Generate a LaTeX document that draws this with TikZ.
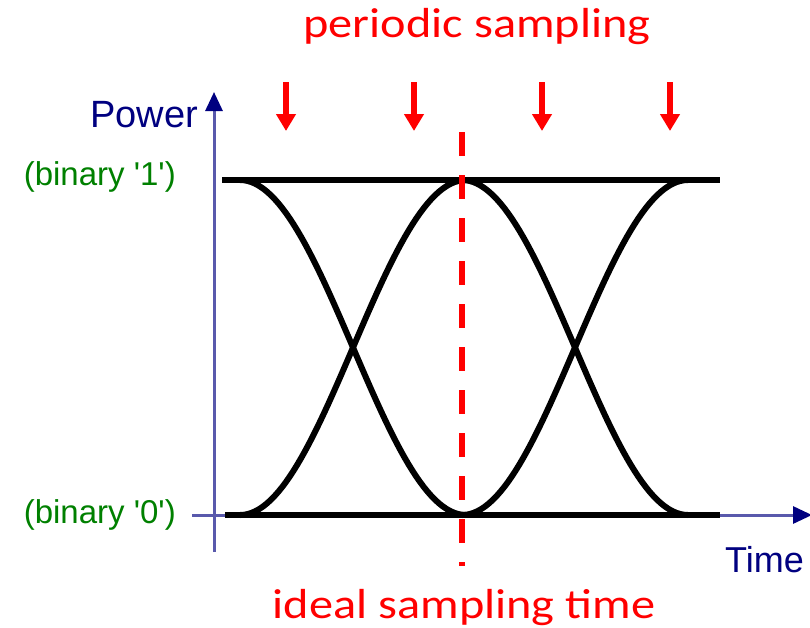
\documentclass[tikz,border=0pt]{standalone}
\usepackage{fontspec}
\setmainfont{Carlito}
\newfontfamily\axisfont{Liberation Sans}
\usetikzlibrary{arrows.meta,positioning,calc}
\definecolor{axiscol}{RGB}{0,0,128}
\definecolor{levelcol}{RGB}{0,128,0}
\definecolor{samplecol}{RGB}{255,0,0}
\newcommand{\wide}[1]{\scalebox{1.15}[1]{#1}}

\begin{document}
\begin{tikzpicture}[x=1pt, y=-1pt,
    axis/.style={axiscol!65, line width=3pt, -{Triangle[length=19pt,width=17pt,color=axiscol]}},
    eye/.style={black, line width=6pt},
    sample/.style={samplecol, line width=6pt, -{Triangle[length=17pt,width=19pt]}},
    ideal/.style={samplecol, line width=6pt, dash pattern=on 24pt off 19pt},
    axislabel/.style={font=\axisfont\fontsize{38}{42}\selectfont, text=axiscol, inner sep=0pt},
    levellabel/.style={font=\axisfont\fontsize{33}{36}\selectfont, text=levelcol, inner sep=0pt},
    caption/.style={font=\fontsize{42}{46}\selectfont, text=samplecol, inner sep=0pt},
]
\useasboundingbox (0,0) rectangle (810,627);

% axes
\coordinate (ybot) at (214,552);
\coordinate (ytop) at (214,92);
\coordinate (xleft) at (192,515);
\coordinate (xright) at (812,515);
\draw[axis] (ybot) -- (ytop);
\draw[axis] (xleft) -- (xright);

\node[axislabel, anchor=base east] (power) at (198,127) {Power};
\node[axislabel, anchor=base west, font=\axisfont\fontsize{36}{40}\selectfont] (time) at (725,572) {Time};
\node[levellabel, anchor=east] (one) at (176,177) {(binary '1')};
\node[levellabel, anchor=east] (zero) at (176,515) {(binary '0')};

% eye diagram
\draw[eye] (222,180) -- (720,180);
\draw[eye] (225,515) -- (720,515);
\foreach \s in {240,462}{
  \draw[eye, domain=0:180, samples=60, variable=\t]
    plot ({\s+\t/180*226}, {347.5-167.5*cos(\t)});
  \draw[eye, domain=0:180, samples=60, variable=\t]
    plot ({\s+\t/180*226}, {347.5+167.5*cos(\t)});
}

% sampling
\coordinate (itop) at (462,132);
\coordinate (ibot) at (462,566);
\draw[ideal] (itop) -- (ibot);
\foreach \i/\x in {1/286,2/414,3/542,4/670}{
  \coordinate (s\i top) at (\x,82);
  \coordinate (s\i bot) at (\x,131);
  \draw[sample] (s\i top) -- (s\i bot);
}

\node[caption, anchor=base] (periodic) at (477,37.5) {\wide{periodic sampling}};
\node[caption, anchor=base] (idealtime) at (464,618) {\wide{ideal sampling time}};
\end{tikzpicture}
\end{document}
